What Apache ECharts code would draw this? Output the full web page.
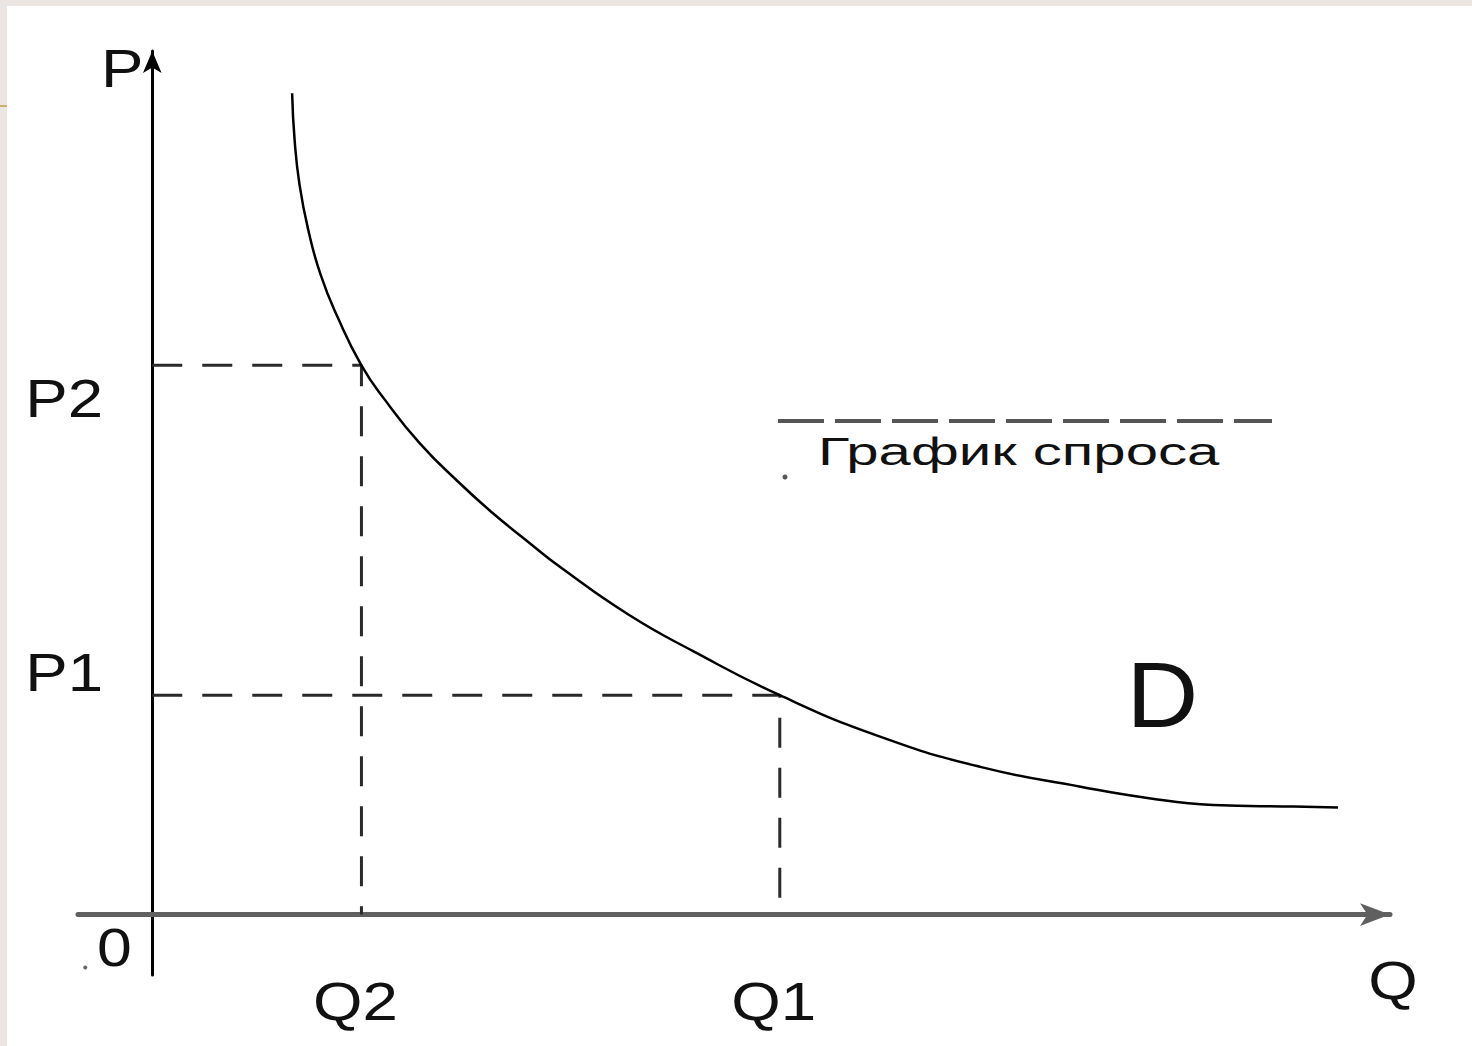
<!DOCTYPE html>
<html>
<head>
<meta charset="utf-8">
<title>График спроса</title>
<script src="https://cdn.jsdelivr.net/npm/echarts@6/dist/echarts.min.js"></script>
<style>
  html, body { margin: 0; padding: 0; background: #ebe6e1; }
  .paper { position: absolute; left: 7px; top: 6px; right: 0; bottom: 0; background: #fff; }
  .mark { position: absolute; left: 0; top: 105px; width: 7px; height: 2px; background: #c9b26c; }
  #chart { position: absolute; left: 0; top: 0; width: 1472px; height: 1046px; }
</style>
</head>
<body>
<div class="paper"></div>
<div class="mark"></div>
<div id="chart"></div>
<script>
  // demand curve D (Q along x, P along y)
  const demandQ = [11.3, 11.5, 11.9, 12.6, 13.6, 15.0, 16.9, 18.8, 21.6, 24.8, 27.5, 30.5, 32.9, 38.4, 43.7, 50.7, 58.8, 66.9, 75.0, 80.4, 85.7, 92.2, 95.8];
  const demandP = [95.1, 89.7, 84.5, 79.3, 74.1, 69.1, 63.6, 59.6, 54.6, 50.0, 46.5, 43.0, 40.3, 34.8, 30.5, 25.4, 20.6, 17.1, 14.8, 13.5, 12.7, 12.5, 12.4];

  // the two marked points on the curve
  const qNames = ['Q2', 'Q1'];
  const qValues = [16.9, 50.7];
  const pNames = ['P2', 'P1'];
  const pValues = [63.6, 25.4];

  const axisNames = ['Q', 'P'];
  const curveName = 'D';
  const noteText = 'График спроса';

  const font = '"Liberation Sans", Arial, sans-serif';
  const ink = '#111';

  const guides = qValues.map((q, i) => ({
    type: 'line',
    data: [[0, pValues[i]], [q, pValues[i]], [q, 0]],
    showSymbol: false,
    silent: true,
    lineStyle: { color: '#2a2a2a', width: 3, type: [30, 20] },
    z: 1
  }));

  const option = {
    animation: false,
    grid: { left: 78, right: 82, top: 51, bottom: 71 },
    xAxis: {
      type: 'value',
      min: -6,
      max: 100,
      axisLine: {
        onZero: true,
        symbol: ['none', 'arrow'],
        symbolSize: [17, 30],
        lineStyle: { color: '#606060', width: 5 }
      },
      axisTick: { show: false },
      axisLabel: { show: false },
      splitLine: { show: false }
    },
    yAxis: {
      type: 'value',
      min: -7,
      max: 100,
      axisLine: {
        onZero: true,
        symbol: ['none', 'arrow'],
        symbolSize: [14, 22],
        lineStyle: { color: '#000', width: 3 }
      },
      axisTick: { show: false },
      axisLabel: { show: false },
      splitLine: { show: false }
    },
    series: guides.concat([{
      name: curveName,
      type: 'line',
      data: demandQ.map((q, i) => [q, demandP[i]]),
      smooth: 0.5,
      showSymbol: false,
      lineStyle: { color: '#000', width: 2.5 },
      z: 3
    }])
  };

  const chart = echarts.init(document.getElementById('chart'), null, { renderer: 'svg' });
  chart.setOption(option);

  const at = (q, p) => chart.convertToPixel({ gridIndex: 0 }, [q, p]);
  const label = (text, pos, size, sx, align) => ({
    type: 'text',
    x: pos[0],
    y: pos[1],
    scaleX: sx,
    style: {
      text: text,
      fill: ink,
      fontSize: size,
      fontFamily: font,
      align: align || 'center',
      verticalAlign: 'middle'
    }
  });

  const pShift = [33, -23];
  const texts = [];
  qNames.forEach((n, i) => {
    const p = at(qValues[i], 0);
    texts.push(label(n, [p[0] - 6, p[1] + 87], 53, 1.2));
  });
  pNames.forEach((n, i) => {
    const p = at(0, pValues[i]);
    texts.push(label(n, [p[0] - 88, p[1] + pShift[i]], 53, 1.2));
  });
  const o = at(0, 0);
  texts.push(label('0', [o[0] - 38, o[1] + 33], 53, 1.18));
  texts.push({
    type: 'circle',
    shape: { cx: o[0] - 67, cy: o[1] + 53, r: 2 },
    style: { fill: '#666' }
  });
  const qEnd = at(100, 0);
  texts.push(label(axisNames[0], [qEnd[0] + 3, qEnd[1] + 66], 53, 1.2));
  const pEnd = at(0, 100);
  texts.push(label(axisNames[1], [pEnd[0] - 30, pEnd[1] + 17], 53, 1.2));
  texts.push(label(curveName, at(81.6, 25.4), 92, 1.08));

  // note with a dashed rule above it
  texts.push({
    type: 'line',
    shape: { x1: 778, y1: 421, x2: 1272, y2: 421 },
    style: { stroke: '#555', lineWidth: 4, lineDash: [46, 11] }
  });
  texts.push(label(noteText, [818, 452], 38, 1.53, 'left'));
  texts.push({
    type: 'circle',
    shape: { cx: 785, cy: 477, r: 2.5 },
    style: { fill: '#555' }
  });

  chart.setOption({ graphic: texts });
</script>
</body>
</html>
